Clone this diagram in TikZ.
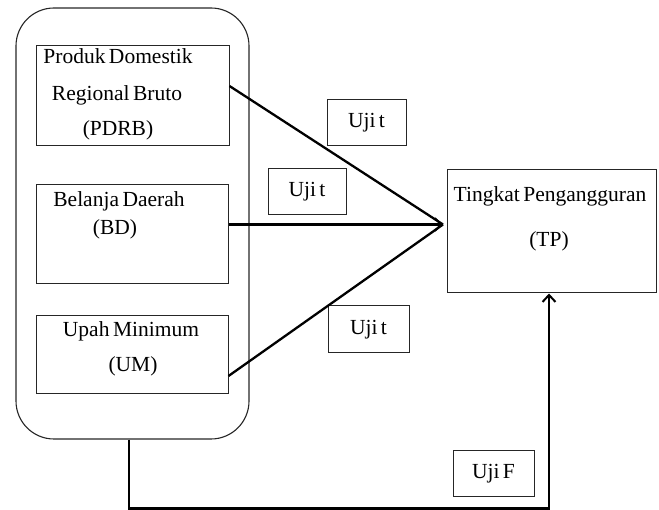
\documentclass[tikz,border=0pt]{standalone}
\usepackage{fontspec}
\setmainfont{Liberation Serif}
\usetikzlibrary{arrows.meta}
\newcommand{\dfont}{\fontsize{21.5}{26}\selectfont\spaceskip=3.5pt plus 1pt\relax}
\begin{document}
\begin{tikzpicture}[x=1pt,y=-1pt,
  box/.style={draw=black!85,line width=1pt,inner sep=0pt},
  lbl/.style={font=\dfont,inner sep=0pt,anchor=base},
  ujibox/.style={draw=black!85,line width=1pt,font=\dfont,inner sep=0pt},
  conn/.style={line width=2.3pt,black},
  tip/.style={-{Straight Barb[length=7pt,width=13pt,line width=2pt]}}
]
\useasboundingbox (0,0) rectangle (659,510);
% outer rounded container
\node[draw=black!85,line width=1.1pt,rounded corners=38pt,minimum width=233pt,minimum height=431pt,inner sep=0pt] (outer) at (132.5,223.5) {};
% variable boxes
\node[box,minimum width=193pt,minimum height=100pt] (pdrb) at (132.5,96) {};
\node[box,minimum width=192pt,minimum height=99pt] (bd) at (132,234.5) {};
\node[box,minimum width=192pt,minimum height=78pt] (um) at (132,355) {};
\node[box,minimum width=209pt,minimum height=123pt] (tp) at (551.5,231.5) {};
% texts
\node[lbl] (t1) at (118,64) {Produk Domestik};
\node[lbl] (t2) at (117,101) {Regional Bruto};
\node[lbl] (t3) at (118,136) {(PDRB)};
\node[lbl] (t4) at (119,207) {Belanja Daerah};
\node[lbl] (t5) at (115,235) {(BD)};
\node[lbl] (t6) at (131,337) {Upah Minimum};
\node[lbl] (t7) at (133,372) {(UM)};
\node[lbl] (t8) at (550,202) {Tingkat Pengangguran};
\node[lbl] (t9) at (549,247) {(TP)};
% test labels
\node[ujibox,minimum width=79pt,minimum height=46pt] (u1) at (366.5,123) {Uji t};
\node[ujibox,minimum width=78pt,minimum height=46pt] (u2) at (307,192) {Uji t};
\node[ujibox,minimum width=81pt,minimum height=47pt] (u3) at (368.5,329.5) {Uji t};
\node[ujibox,minimum width=81pt,minimum height=46pt] (uf) at (493.5,474) {Uji F};
% connectors
\coordinate (tipc) at (443,224.5);
\draw[conn] ([yshift=10pt]pdrb.east) -- (tipc);
\draw[conn,tip] ([yshift=10pt]bd.east) -- (tipc);
\draw[conn] ([yshift=-21pt]um.east) -- (tipc);
\draw[conn,tip] ([xshift=-3.5pt]outer.south) -- ++(0,69) -| ([xshift=-2.5pt]tp.south);
\end{tikzpicture}
\end{document}
